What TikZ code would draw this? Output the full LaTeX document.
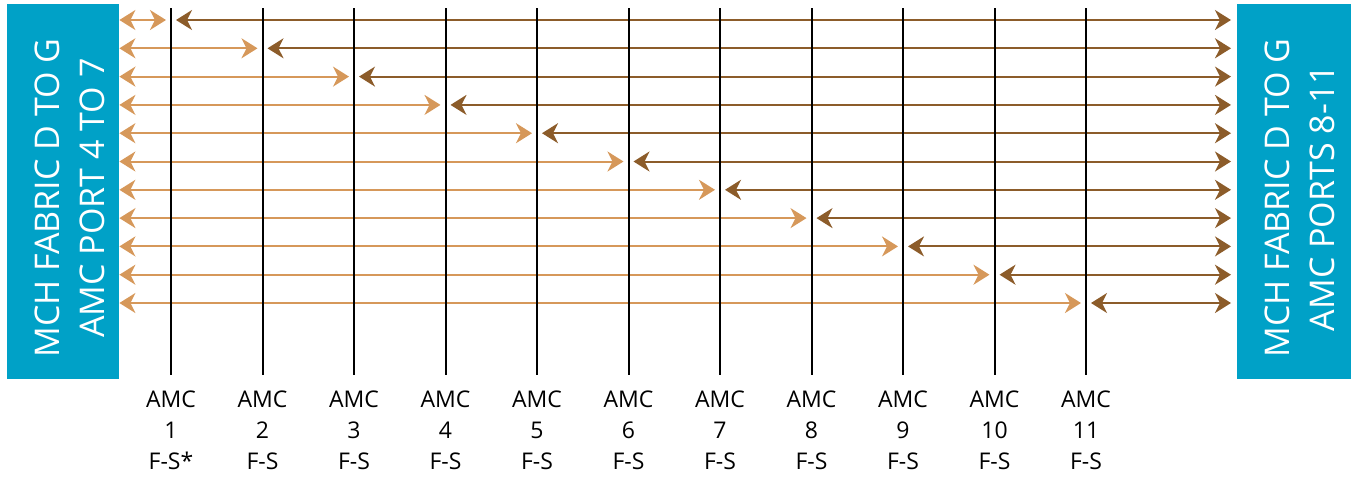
\documentclass[tikz,border=0pt]{standalone}
\usepackage{fontspec}
\setmainfont{Open Sans}
\usepackage{tikz}
\usetikzlibrary{arrows.meta}

\definecolor{mchblue}{RGB}{0,161,199}
\definecolor{amctan}{RGB}{214,152,90}
\definecolor{amcbrown}{RGB}{140,92,42}

\begin{document}
\begin{tikzpicture}[x=0.5pt, y=-0.5pt,
    fabric/.style={fill=mchblue, inner sep=0pt, minimum width=56pt, minimum height=187.5pt},
    fabrictext/.style={rotate=90, text=white, align=center, inner sep=0pt, font=\fontsize{17}{22.5}\selectfont},
    amclabel/.style={align=center, inner sep=0pt, font=\fontsize{11.5}{15.5}\selectfont},
    link/.style={line width=1pt, {Stealth[length=8pt, width=10pt, inset=2.5pt]}-{Stealth[length=8pt, width=10pt, inset=2.5pt]}}]
    \useasboundingbox (0,0) rectangle (1351,479);
    % the two MCH boxes
    \node[fabric] (mchleft) at (63,191.5) {};
    \node[fabric, minimum width=57pt] (mchright) at (1294,191.5) {};
    \node[fabrictext] (lefttext) at (69.5,198) {MCH FABRIC D TO G\\AMC PORT 4 TO 7};
    \node[fabrictext] (righttext) at (1299.5,198) {MCH FABRIC D TO G\\AMC PORTS 8-11};
    % links, one row per AMC
    \foreach \i in {1,...,11} {
        \pgfmathsetmacro{\xl}{171+(\i-1)*91.5}
        \pgfmathsetmacro{\yr}{20+(\i-1)*28.3}
        \coordinate (tanend\i) at (\xl-5,\yr);
        \coordinate (brownstart\i) at (\xl+5,\yr);
        \coordinate (brownend\i) at (1231,\yr);
        \draw[link, amctan] (mchleft.east |- tanend\i) -- (tanend\i);
        \draw[link, amcbrown] (brownstart\i) -- (brownend\i);
    }
    % AMC slots
    \foreach \i in {1,...,11} {
        \pgfmathsetmacro{\xl}{171+(\i-1)*91.5}
        \coordinate (top\i) at (\xl,8);
        \coordinate (bot\i) at (\xl,375);
        \draw[line width=1pt] (top\i) -- (bot\i);
        \node[amclabel] (amc\i) at (\xl,430) {AMC\\\i\\F-S\ifnum\i=1*\fi};
    }
\end{tikzpicture}
\end{document}
